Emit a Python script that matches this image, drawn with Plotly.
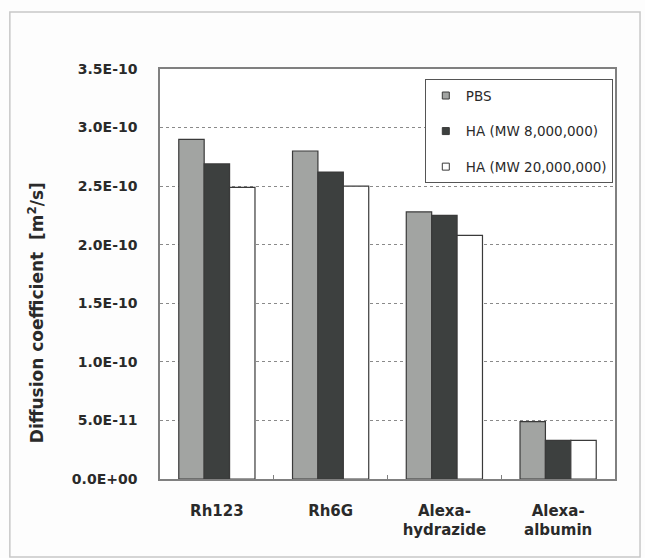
import plotly.graph_objects as go

categories = ["Rh123", "Rh6G", "Alexa-<br>hydrazide", "Alexa-<br>albumin"]
series_names = ["PBS", "HA (MW 8,000,000)", "HA (MW 20,000,000)"]
pbs = [2.90e-10, 2.80e-10, 2.28e-10, 4.9e-11]
ha8m = [2.69e-10, 2.62e-10, 2.25e-10, 3.3e-11]
ha20m = [2.49e-10, 2.50e-10, 2.08e-10, 3.3e-11]
y_tickvals = [0, 0.5e-10, 1.0e-10, 1.5e-10, 2.0e-10, 2.5e-10, 3.0e-10, 3.5e-10]
y_ticktext = ["0.0E+00", "5.0E-11", "1.0E-10", "1.5E-10", "2.0E-10", "2.5E-10", "3.0E-10", "3.5E-10"]
y_title = "Diffusion coefficient  [m<sup>2</sup>/s]"

colors = ["#a2a4a2", "#3d403f", "#ffffff"]
series = [pbs, ha8m, ha20m]

fig = go.Figure()
for name, vals, col in zip(series_names, series, colors):
    fig.add_trace(go.Bar(
        x=categories, y=vals, name=name, showlegend=False,
        marker=dict(color=col, line=dict(color="#3a3a3a", width=1.2)),
    ))
for i, (name, col) in enumerate(zip(series_names, colors)):
    fig.add_trace(go.Scatter(
        x=[None], y=[None], mode="markers", name=name, legendgroup=str(i),
        marker=dict(symbol="square", size=7, color=col, line=dict(color="#3a3a3a", width=1)),
    ))

fig.update_layout(
    width=645, height=558,
    margin=dict(l=160, r=30, t=69, b=79),
    paper_bgcolor="#fdfdfd", plot_bgcolor="#ffffff",
    barmode="group", bargap=0.33, bargroupgap=0,
    font=dict(family="DejaVu Sans", color="#2a2a2a"),
    legend=dict(
        x=0.582, y=0.975, xanchor="left", yanchor="top",
        bordercolor="#555555", borderwidth=1, bgcolor="#ffffff",
        font=dict(family="DejaVu Sans", size=13.5, color="#2a2a2a"),
        tracegroupgap=15, itemwidth=30,
    ),
    xaxis=dict(
        showline=True, mirror=True, linecolor="#808080", linewidth=1.5,
        ticks="inside", tickson="boundaries", ticklen=4, tickcolor="#808080",
        tickfont=dict(family="DejaVu Sans", size=15, weight="bold", color="#2a2a2a"),
        ticklabelstandoff=17,
    ),
    yaxis=dict(
        range=[0, 3.5e-10], tickvals=y_tickvals, ticktext=y_ticktext,
        showline=True, mirror=True, linecolor="#808080", linewidth=1.5,
        showgrid=True, gridcolor="#8a8a8a", griddash="dot", gridwidth=1,
        zeroline=False, ticks="",
        tickfont=dict(family="DejaVu Sans", size=14, weight="bold", color="#2a2a2a"),
        ticklabelstandoff=18,
    ),
    annotations=[dict(
        text=y_title, textangle=-90, xref="paper", yref="paper",
        x=-0.272, y=0.405, xanchor="center", yanchor="middle", showarrow=False,
        font=dict(family="DejaVu Sans", size=17, weight="bold", color="#2a2a2a"),
    )],
    shapes=[dict(
        type="rect", xref="paper", yref="paper",
        x0=-0.33, x1=1.055, y0=-0.19, y1=1.139,
        line=dict(color="#c8c8c8", width=1.5),
    )],
)

fig.write_html("out.html")
